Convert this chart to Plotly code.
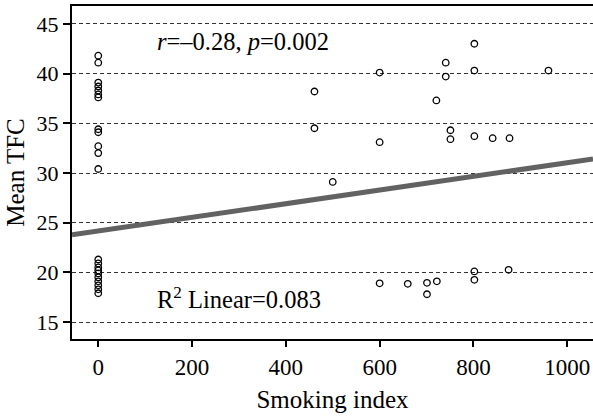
import plotly.graph_objects as go

# Data
smoking_index = [0]*22 + [461, 461, 500, 600, 600, 721, 741, 741, 751, 751, 802, 802, 802, 841, 877, 960,
                          600, 660, 701, 701, 722, 802, 802, 875]
mean_tfc = [41.8, 41.1, 39.1, 38.7, 38.3, 37.9, 37.6, 34.4, 34.1, 32.7, 32.0, 30.4,
            21.3, 20.9, 20.5, 20.2, 19.9, 19.5, 19.1, 18.7, 18.3, 17.9,
            38.2, 34.5, 29.1, 40.1, 33.1, 37.3, 41.1, 39.7, 34.3, 33.4, 43.0, 40.3, 33.7, 33.5, 33.5, 40.3,
            18.9, 18.85, 18.95, 17.8, 19.1, 20.1, 19.25, 20.26]

fit_intercept = 24.16
fit_slope = 0.00687
x_range = [-56, 1055]
y_range = [13.3, 46.8]
x_ticks = [0, 200, 400, 600, 800, 1000]
y_ticks = [15, 20, 25, 30, 35, 40, 45]

FONT = "Liberation Serif"

fig = go.Figure()
fig.add_trace(go.Scatter(
    x=x_range, y=[fit_intercept + fit_slope * v for v in x_range],
    mode="lines", line=dict(color="#626262", width=5), hoverinfo="skip", showlegend=False))
fig.add_trace(go.Scatter(
    x=smoking_index, y=mean_tfc, mode="markers",
    marker=dict(symbol="circle-open", size=6.5, color="black", line=dict(width=1.3)),
    showlegend=False))

fig.add_annotation(x=0.328, y=43.2, xref="paper", yref="y", xanchor="center", yanchor="middle",
                   text="<i>r</i>=–0.28, <i>p</i>=0.002", showarrow=False,
                   font=dict(family=FONT, size=24.5, color="black"))
fig.add_annotation(x=0.32, y=17.4, xref="paper", yref="y", xanchor="center", yanchor="middle",
                   text="R<sup>2</sup> Linear=0.083", showarrow=False,
                   font=dict(family=FONT, size=24.5, color="black"))

fig.update_layout(
    width=593, height=418,
    margin=dict(l=72, r=0, t=6, b=79),
    paper_bgcolor="white", plot_bgcolor="white",
    font=dict(family=FONT, size=22, color="black"),
    xaxis=dict(range=x_range, tickvals=x_ticks, showgrid=False, zeroline=False, automargin=False,
               showline=True, linecolor="black", linewidth=2, mirror=True,
               ticks="outside", ticklen=6, tickwidth=2, tickcolor="black",
               tickfont=dict(family=FONT, size=23),
               title=dict(text="Smoking index", standoff=12, font=dict(family=FONT, size=25))),
    yaxis=dict(range=y_range, tickvals=y_ticks, showgrid=True, gridcolor="#333333",
               griddash="4px,3px", gridwidth=1, zeroline=False, automargin=False,
               showline=True, linecolor="black", linewidth=2, mirror=False,
               ticks="outside", ticklen=7, tickwidth=2, tickcolor="black",
               tickfont=dict(family=FONT, size=22),
               title=dict(text="Mean TFC", standoff=5, font=dict(family=FONT, size=25))),
)

fig.write_html("out.html", post_script="document.body.style.margin='0';",
               config={"displayModeBar": False})
